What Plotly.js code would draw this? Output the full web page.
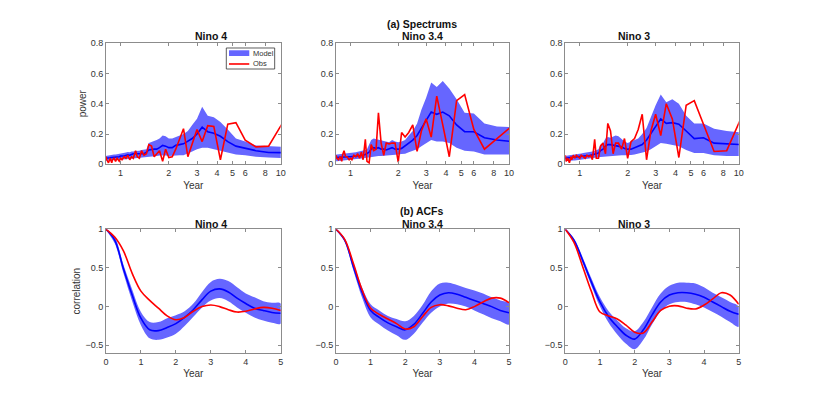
<!DOCTYPE html>
<html>
<head>
<meta charset="utf-8">
<script src="https://cdn.plot.ly/plotly-3.0.1.min.js"></script>
<style>
  html, body { margin: 0; padding: 0; background: #fff; }
  #chart { width: 817px; height: 395px; }
</style>
</head>
<body>
<div id="chart"></div>
<script>
// spectra: period axis (years)
const periods = [10.5, 8.4, 7, 6, 5.25, 4.67, 4.2, 3.82, 3.5, 3.23, 3.0, 2.8, 2.63, 2.47, 2.33, 2.21, 2.1, 2.0, 1.91, 1.83,
  1.75, 1.68, 1.62, 1.56, 1.5, 1.45, 1.4, 1.35, 1.31, 1.27, 1.24, 1.2, 1.17, 1.14, 1.11, 1.08, 1.05, 1.02, 1.0, 0.98,
  0.95, 0.93, 0.91, 0.89, 0.88, 0.86, 0.84, 0.82, 0.81];

// Nino 4 spectrum
const specObs4 = [0.29, 0.12, 0.115, 0.16, 0.275, 0.265, 0.03, 0.25, 0.255, 0.15, 0.23, 0.14, 0.05, 0.235, 0.16, 0.1, 0.05, 0.045, 0.1, 0.02,
  0.09, 0.07, 0.05, 0.12, 0.13, 0.07, 0.06, 0.09, 0.04, 0.05, 0.09, 0.04, 0.05, 0.03, 0.06, 0.04, 0.05, 0.03, 0.04, 0.02,
  0.04, 0.02, 0.04, 0.03, 0.01, 0.04, 0.01, 0.03, 0.05];
const specMean4 = [0.077, 0.078, 0.09, 0.108, 0.12, 0.15, 0.185, 0.205, 0.215, 0.245, 0.2, 0.17, 0.15, 0.135, 0.13, 0.125, 0.11, 0.11, 0.12, 0.125,
  0.11, 0.1, 0.1, 0.1, 0.095, 0.08, 0.07, 0.07, 0.07, 0.07, 0.068, 0.07, 0.065, 0.06, 0.062, 0.058, 0.055, 0.055, 0.055, 0.05,
  0.05, 0.048, 0.048, 0.045, 0.045, 0.043, 0.042, 0.04, 0.04];
const specUp4 = [0.115, 0.12, 0.125, 0.15, 0.17, 0.23, 0.28, 0.31, 0.32, 0.38, 0.3, 0.26, 0.22, 0.2, 0.19, 0.18, 0.17, 0.17, 0.185, 0.19,
  0.17, 0.16, 0.155, 0.15, 0.14, 0.1, 0.1, 0.095, 0.09, 0.09, 0.088, 0.085, 0.085, 0.08, 0.082, 0.078, 0.075, 0.075, 0.072, 0.07,
  0.068, 0.065, 0.065, 0.062, 0.06, 0.06, 0.058, 0.056, 0.055];
const specLo4 = [0.04, 0.045, 0.05, 0.06, 0.065, 0.08, 0.09, 0.1, 0.11, 0.11, 0.1, 0.085, 0.07, 0.06, 0.06, 0.06, 0.058, 0.055, 0.058, 0.06,
  0.058, 0.055, 0.05, 0.05, 0.05, 0.048, 0.045, 0.045, 0.043, 0.042, 0.04, 0.04, 0.038, 0.036, 0.035, 0.034, 0.032, 0.03, 0.03, 0.03,
  0.028, 0.028, 0.027, 0.026, 0.025, 0.025, 0.025, 0.024, 0.024];

// Nino 3.4 spectrum
const specObs34 = [0.255, 0.17, 0.1, 0.23, 0.46, 0.42, 0.05, 0.26, 0.45, 0.18, 0.3, 0.22, 0.085, 0.26, 0.21, 0.18, 0.21, 0.015, 0.14, 0.14,
  0.135, 0.14, 0.06, 0.14, 0.34, 0.1, 0.09, 0.13, 0.01, 0.02, 0.165, 0.03, 0.08, 0.04, 0.07, 0.05, 0.06, 0.03, 0.04, 0.03,
  0.05, 0.05, 0.09, 0.06, 0.02, 0.05, 0.03, 0.04, 0.06];
const specMean34 = [0.15, 0.16, 0.175, 0.215, 0.215, 0.26, 0.32, 0.345, 0.33, 0.345, 0.29, 0.24, 0.19, 0.16, 0.14, 0.12, 0.105, 0.1, 0.1, 0.11,
  0.1, 0.095, 0.1, 0.1, 0.11, 0.105, 0.11, 0.1, 0.08, 0.07, 0.065, 0.06, 0.058, 0.056, 0.055, 0.054, 0.053, 0.052, 0.05, 0.05,
  0.05, 0.05, 0.048, 0.048, 0.047, 0.046, 0.046, 0.045, 0.045];
const specUp34 = [0.245, 0.25, 0.27, 0.335, 0.34, 0.43, 0.5, 0.55, 0.51, 0.54, 0.44, 0.36, 0.27, 0.22, 0.19, 0.16, 0.15, 0.145, 0.15, 0.16,
  0.145, 0.15, 0.155, 0.16, 0.165, 0.17, 0.17, 0.16, 0.13, 0.1, 0.095, 0.09, 0.088, 0.085, 0.083, 0.08, 0.078, 0.076, 0.075, 0.074,
  0.072, 0.07, 0.07, 0.068, 0.068, 0.067, 0.066, 0.065, 0.065];
const specLo34 = [0.065, 0.065, 0.065, 0.085, 0.09, 0.11, 0.14, 0.15, 0.15, 0.16, 0.14, 0.12, 0.1, 0.09, 0.08, 0.07, 0.068, 0.065, 0.062, 0.06,
  0.06, 0.058, 0.056, 0.055, 0.055, 0.053, 0.05, 0.048, 0.046, 0.044, 0.042, 0.04, 0.038, 0.036, 0.035, 0.034, 0.032, 0.031, 0.03, 0.028,
  0.027, 0.026, 0.025, 0.024, 0.023, 0.022, 0.021, 0.02, 0.02];

// Nino 3 spectrum
const specObs3 = [0.32, 0.09, 0.085, 0.27, 0.42, 0.39, 0.045, 0.3, 0.4, 0.19, 0.33, 0.22, 0.03, 0.33, 0.23, 0.17, 0.15, 0.04, 0.17, 0.1,
  0.14, 0.14, 0.07, 0.22, 0.27, 0.07, 0.14, 0.12, 0.04, 0.04, 0.165, 0.03, 0.06, 0.05, 0.06, 0.04, 0.05, 0.06, 0.04, 0.05,
  0.06, 0.04, 0.06, 0.03, 0.05, 0.01, 0.04, 0.02, 0.06];
const specMean3 = [0.13, 0.135, 0.14, 0.175, 0.17, 0.22, 0.265, 0.275, 0.27, 0.3, 0.25, 0.2, 0.16, 0.13, 0.12, 0.11, 0.1, 0.1, 0.105, 0.115,
  0.12, 0.125, 0.13, 0.13, 0.13, 0.12, 0.1, 0.09, 0.075, 0.07, 0.066, 0.062, 0.06, 0.058, 0.056, 0.055, 0.054, 0.053, 0.05, 0.05,
  0.049, 0.048, 0.047, 0.046, 0.045, 0.044, 0.043, 0.042, 0.04];
const specUp3 = [0.21, 0.22, 0.235, 0.27, 0.27, 0.32, 0.4, 0.43, 0.41, 0.46, 0.39, 0.31, 0.24, 0.2, 0.17, 0.16, 0.15, 0.14, 0.15, 0.17,
  0.185, 0.19, 0.18, 0.175, 0.18, 0.17, 0.14, 0.13, 0.1, 0.09, 0.088, 0.085, 0.082, 0.08, 0.078, 0.076, 0.074, 0.072, 0.07, 0.069,
  0.068, 0.066, 0.065, 0.063, 0.062, 0.06, 0.058, 0.056, 0.055];
const specLo3 = [0.055, 0.055, 0.06, 0.075, 0.075, 0.095, 0.12, 0.13, 0.135, 0.14, 0.12, 0.1, 0.085, 0.075, 0.07, 0.065, 0.062, 0.06, 0.06, 0.06,
  0.058, 0.057, 0.055, 0.055, 0.054, 0.052, 0.05, 0.048, 0.046, 0.044, 0.042, 0.04, 0.038, 0.036, 0.035, 0.034, 0.032, 0.031, 0.03, 0.028,
  0.027, 0.026, 0.025, 0.024, 0.023, 0.022, 0.021, 0.02, 0.02];

// ACFs: lag in years
const lags = [0, 0.25, 0.5, 0.75, 1, 1.25, 1.5, 1.75, 2, 2.25, 2.5, 2.75, 3, 3.25, 3.5, 3.75, 4, 4.25, 4.5, 4.75, 5];

const acfObs4 = [1, 0.9, 0.72, 0.43, 0.2, 0.08, -0.02, -0.12, -0.17, -0.14, -0.06, 0.0, 0.02, 0.0, -0.04, -0.07, -0.06, -0.03, -0.01, -0.02, -0.05];
const acfMean4 = [1, 0.86, 0.49, 0.15, -0.15, -0.3, -0.31, -0.27, -0.22, -0.14, -0.04, 0.09, 0.2, 0.23, 0.19, 0.11, 0.04, -0.02, -0.05, -0.075, -0.085];
const acfUp4 = [1, 0.9, 0.54, 0.22, -0.07, -0.2, -0.2, -0.15, -0.11, -0.06, 0.04, 0.19, 0.32, 0.36, 0.33, 0.25, 0.17, 0.12, 0.07, 0.05, 0.04];
const acfLo4 = [1, 0.82, 0.43, 0.07, -0.24, -0.41, -0.43, -0.4, -0.35, -0.25, -0.13, -0.01, 0.08, 0.11, 0.07, -0.01, -0.08, -0.14, -0.18, -0.21, -0.22];

const acfObs34 = [1, 0.87, 0.56, 0.22, -0.02, -0.1, -0.16, -0.22, -0.29, -0.26, -0.13, -0.01, 0.025, 0.01, -0.02, -0.04, 0.0, 0.06, 0.11, 0.11, 0.05];
const acfMean34 = [1, 0.86, 0.52, 0.19, -0.05, -0.14, -0.21, -0.26, -0.3, -0.23, -0.09, 0.06, 0.15, 0.18, 0.16, 0.12, 0.08, 0.04, 0.0, -0.05, -0.08];
const acfUp34 = [1, 0.88, 0.57, 0.25, 0.03, -0.05, -0.12, -0.16, -0.19, -0.12, 0.02, 0.2, 0.3, 0.31, 0.28, 0.24, 0.21, 0.17, 0.12, 0.08, 0.04];
const acfLo34 = [1, 0.84, 0.47, 0.12, -0.14, -0.23, -0.31, -0.37, -0.43, -0.35, -0.21, -0.08, 0.0, 0.04, 0.03, 0.0, -0.05, -0.1, -0.15, -0.19, -0.23];

const acfObs3 = [1, 0.83, 0.52, 0.2, -0.07, -0.12, -0.16, -0.24, -0.33, -0.34, -0.2, -0.05, 0.005, 0.01, -0.02, -0.03, 0.02, 0.1, 0.18, 0.15, 0.03];
const acfMean3 = [1, 0.86, 0.6, 0.32, 0.06, -0.13, -0.26, -0.37, -0.42, -0.3, -0.11, 0.06, 0.15, 0.18, 0.18, 0.16, 0.12, 0.06, 0.0, -0.06, -0.1];
const acfUp3 = [1, 0.88, 0.64, 0.37, 0.12, -0.06, -0.18, -0.28, -0.32, -0.2, -0.01, 0.17, 0.27, 0.31, 0.31, 0.3, 0.25, 0.18, 0.12, 0.06, 0.0];
const acfLo3 = [1, 0.84, 0.56, 0.27, 0.0, -0.21, -0.36, -0.48, -0.55, -0.43, -0.23, -0.06, 0.03, 0.06, 0.06, 0.03, -0.01, -0.07, -0.13, -0.2, -0.26];

const regionNames = ['Nino 4', 'Nino 3.4', 'Nino 3'];
const periodTicks = [1, 2, 3, 4, 5, 6, 8, 10];
const legendLabels = ['Model', 'Obs'];

const bandColor = '#6666ff';
const meanColor = '#0000ff';
const obsColor = '#ff0000';

// one panel = shaded model range + model mean + obs
function panelTraces(x, up, lo, mean, obs, xa, ya, smooth) {
  const shape = smooth ? 'spline' : 'linear';
  return [
    {
      x: x.concat(x.slice().reverse()),
      y: up.concat(lo.slice().reverse()),
      xaxis: xa, yaxis: ya,
      mode: 'lines', fill: 'toself', fillcolor: bandColor,
      line: {width: 0, shape: shape},
      name: 'Model', hoverinfo: 'skip'
    },
    {
      x: x, y: mean, xaxis: xa, yaxis: ya,
      mode: 'lines', line: {color: meanColor, width: 1.6, shape: shape}
    },
    {
      x: x, y: obs, xaxis: xa, yaxis: ya,
      mode: 'lines', line: {color: obsColor, width: 1.6, shape: shape},
      name: 'Obs'
    }
  ];
}

const data = [].concat(
  panelTraces(periods, specUp4, specLo4, specMean4, specObs4, 'x', 'y', false),
  panelTraces(periods, specUp34, specLo34, specMean34, specObs34, 'x2', 'y2', false),
  panelTraces(periods, specUp3, specLo3, specMean3, specObs3, 'x3', 'y3', false),
  panelTraces(lags, acfUp4, acfLo4, acfMean4, acfObs4, 'x4', 'y4', true),
  panelTraces(lags, acfUp34, acfLo34, acfMean34, acfObs34, 'x5', 'y5', true),
  panelTraces(lags, acfUp3, acfLo3, acfMean3, acfObs3, 'x6', 'y6', true)
);

const font = 'Liberation Sans, Arial, sans-serif';
const axisBase = {
  showline: true, linecolor: '#8c8c8c', linewidth: 1, mirror: 'ticks',
  ticks: 'inside', ticklen: 3, tickcolor: '#8c8c8c',
  showgrid: false, zeroline: false,
  tickfont: {size: 9, color: '#333'}
};
const titleFont = {size: 10.5, color: '#111'};

const colDomains = [[0.1297, 0.3436], [0.4113, 0.6230], [0.6919, 0.9042]];
const topDomain = [0.584, 0.891];
const botDomain = [0.1063, 0.4195];

// small legend box inside the Nino 4 spectrum panel (plotly's own legend is too tall)
const legendShapes = [
  {type: 'rect', x0: 0.277, x1: 0.3362, y0: 0.8253, y1: 0.8785, line: {color: '#333', width: 0.8}, fillcolor: '#fff'},
  {type: 'rect', x0: 0.2803, x1: 0.3051, y0: 0.8582, y1: 0.8727, line: {width: 0}, fillcolor: bandColor},
  {type: 'line', x0: 0.2803, x1: 0.3051, y0: 0.838, y1: 0.838, line: {color: obsColor, width: 1.6}}
].map(s => Object.assign(s, {xref: 'paper', yref: 'paper'}));

const layout = {
  width: 817, height: 395,
  margin: {l: 0, r: 0, t: 0, b: 0},
  paper_bgcolor: '#fff', plot_bgcolor: '#fff',
  font: {family: font, color: '#262626'},
  showlegend: false,
  shapes: legendShapes,
  annotations: [
    {text: '<b>(a) Spectrums</b>', x: 0.517, y: 0.939, font: titleFont},
    {text: '<b>(b) ACFs</b>', x: 0.517, y: 0.4666, font: titleFont},
    {text: legendLabels[0], x: 0.3076, y: 0.8633, xanchor: 'left', font: {size: 7.5, color: '#333'}},
    {text: legendLabels[1], x: 0.3076, y: 0.838, xanchor: 'left', font: {size: 7.5, color: '#333'}}
  ].map(a => Object.assign({xref: 'paper', yref: 'paper', showarrow: false, yanchor: 'middle'}, a))
};

for (let i = 0; i < 3; i++) {
  const cx = (colDomains[i][0] + colDomains[i][1]) / 2;
  layout.annotations.push({text: '<b>' + regionNames[i] + '</b>', x: cx, y: 0.909, xref: 'paper', yref: 'paper', showarrow: false, yanchor: 'middle', font: titleFont});
  layout.annotations.push({text: '<b>' + regionNames[i] + '</b>', x: cx, y: 0.4337, xref: 'paper', yref: 'paper', showarrow: false, yanchor: 'middle', font: titleFont});

  const s = i === 0 ? '' : String(i + 1);
  const b = String(i + 4);
  layout['xaxis' + s] = Object.assign({}, axisBase, {
    domain: colDomains[i], anchor: 'y' + s, type: 'log',
    range: [Math.log10(0.81), 1],
    tickvals: periodTicks, ticktext: periodTicks.map(String),
    title: {text: 'Year', font: {size: 10, color: '#333'}, standoff: 4}
  });
  layout['yaxis' + s] = Object.assign({}, axisBase, {
    domain: topDomain, anchor: 'x' + s, range: [0, 0.8], dtick: 0.2,
    title: {text: i === 0 ? 'power' : '', font: {size: 10, color: '#333'}, standoff: 2}
  });
  layout['xaxis' + b] = Object.assign({}, axisBase, {
    domain: colDomains[i], anchor: 'y' + b, range: [0, 5], dtick: 1,
    title: {text: 'Year', font: {size: 10, color: '#333'}, standoff: 4}
  });
  layout['yaxis' + b] = Object.assign({}, axisBase, {
    domain: botDomain, anchor: 'x' + b, range: [-0.6, 1], tickvals: [-0.5, 0, 0.5, 1],
    title: {text: i === 0 ? 'correlation' : '', font: {size: 10, color: '#333'}, standoff: 2}
  });
}

Plotly.newPlot('chart', data, layout, {displayModeBar: false, staticPlot: true});
</script>
</body>
</html>
